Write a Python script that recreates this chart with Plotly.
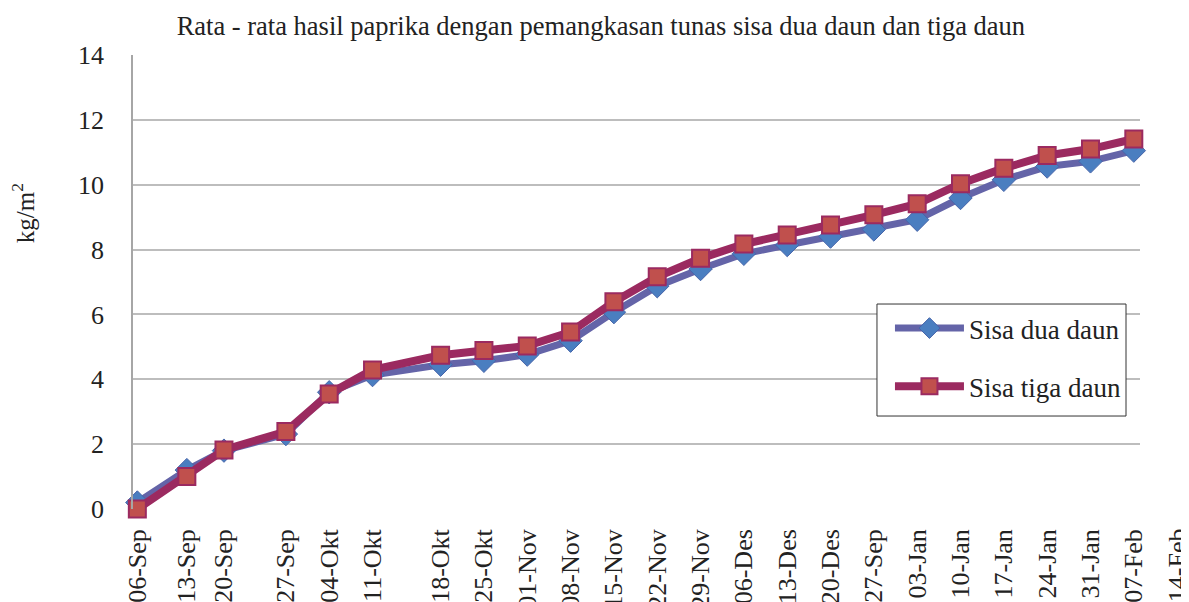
import plotly.graph_objects as go

# Harvest day (days after 06-Sep) of each observation
days = [0, 8, 14, 24, 31, 38, 49, 56, 63, 70, 77, 84, 91, 98, 105, 112, 119, 126, 133, 140, 147, 154, 161]
tick_labels = ["06-Sep", "13-Sep", "20-Sep", "27-Sep", "04-Okt", "11-Okt", "18-Okt", "25-Okt",
               "01-Nov", "08-Nov", "15-Nov", "22-Nov", "29-Nov", "06-Des", "13-Des", "20-Des",
               "27-Sep", "03-Jan", "10-Jan", "17-Jan", "24-Jan", "31-Jan", "07-Feb"]
extra_label = "14-Feb"
extra_day = 168

sisa_dua = [0.2, 1.2, 1.8, 2.31, 3.6, 4.13, 4.45, 4.57, 4.76, 5.19, 6.07, 6.87, 7.4, 7.87,
            8.14, 8.4, 8.62, 8.92, 9.59, 10.15, 10.56, 10.72, 11.05]
sisa_tiga = [0.0, 1.0, 1.82, 2.39, 3.55, 4.29, 4.74, 4.89, 5.03, 5.46, 6.39, 7.16, 7.73, 8.17,
             8.45, 8.76, 9.07, 9.41, 10.03, 10.51, 10.9, 11.1, 11.41]

FONT = "Liberation Serif"
X_RANGE = [-0.7, 162]

fig = go.Figure()
fig.add_trace(go.Scatter(
    x=days, y=sisa_dua, name="Sisa dua daun", mode="lines+markers", legendgroup="a",
    line=dict(color="rgb(100,100,168)", width=7),
    marker=dict(symbol="diamond", size=18, color="rgb(74,126,192)",
                line=dict(color="rgb(70,100,170)", width=1)),
    cliponaxis=False,
))
fig.add_trace(go.Scatter(
    x=days, y=sisa_tiga, name="Sisa tiga daun", mode="lines+markers", legendgroup="b",
    line=dict(color="rgb(155,42,96)", width=8),
    marker=dict(symbol="square", size=17, color="rgb(192,80,77)",
                line=dict(color="rgb(155,42,96)", width=2)),
    cliponaxis=False,
))

extra_pos = (extra_day - X_RANGE[0]) / (X_RANGE[1] - X_RANGE[0])
fig.add_annotation(x=extra_pos, y=0, xref="paper", yref="paper", text=extra_label,
                   textangle=-90, showarrow=False, xanchor="center", yanchor="top",
                   yshift=-17, font=dict(family=FONT, size=26, color="#222"))
fig.add_annotation(x=-0.109, y=0.652, xref="paper", yref="paper", text="kg/m<sup>2</sup>",
                   textangle=-90, showarrow=False, xanchor="center", yanchor="middle",
                   font=dict(family=FONT, size=25, color="#222"))

# legend frame
fig.add_shape(type="rect", xref="paper", yref="paper", x0=0.7388, x1=0.9861, y0=0.2048, y1=0.4515,
              line=dict(color="#333", width=1), fillcolor="white", layer="above")

fig.update_layout(
    width=1181, height=594,
    margin=dict(l=125, r=49, t=47, b=93, autoexpand=False),
    paper_bgcolor="white", plot_bgcolor="white",
    font=dict(family=FONT, color="#222"),
    title=dict(text="Rata - rata hasil paprika dengan pemangkasan tunas sisa dua daun dan tiga daun",
               x=0.502, xref="container", xanchor="center",
               y=0.9697, yref="container", yanchor="middle",
               font=dict(family=FONT, size=26.5, color="#222")),
    xaxis=dict(range=X_RANGE, tickmode="array", tickvals=days, ticktext=tick_labels,
               tickangle=-90, tickfont=dict(family=FONT, size=26, color="#222"),
               showgrid=False, zeroline=False, showline=False, ticklabelstandoff=14,
               automargin=False),
    yaxis=dict(range=[0, 14], tickvals=[0, 2, 4, 6, 8, 10, 12, 14],
               tickfont=dict(family=FONT, size=26, color="#222"),
               showgrid=True, gridcolor="#BDBDBD", gridwidth=1.5, zeroline=False,
               showline=True, linecolor="#A6A6A6", linewidth=1.5, ticklabelstandoff=22,
               automargin=False),
    showlegend=True,
    legend=dict(x=0.7517, y=0.4515, xanchor="left", yanchor="top",
                bgcolor="rgba(0,0,0,0)", borderwidth=0,
                font=dict(family=FONT, size=27, color="#222"),
                tracegroupgap=20, itemwidth=69, traceorder="grouped"),
)

fig.write_html("out.html")
